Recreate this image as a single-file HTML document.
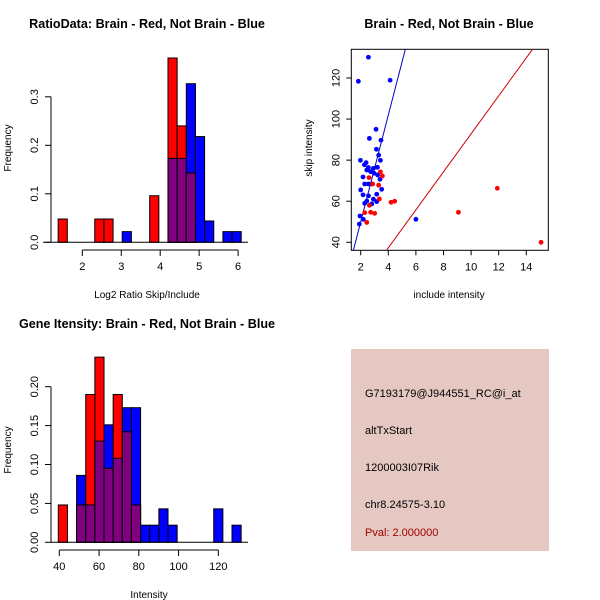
<!DOCTYPE html>
<html><head><meta charset="utf-8"><style>
body{margin:0;background:#fff;}
svg{display:block;font-family:"Liberation Sans",sans-serif;}
</style></head><body>
<svg id="c" width="600" height="600" xmlns="http://www.w3.org/2000/svg">
<rect width="600" height="600" fill="#fff"/>
<g id="p1"></g>
<g id="p2"></g>
<g id="p3"></g>
<g>
<rect x="351" y="349" width="198" height="202" fill="#E6C8C2"/>
<text x="365" y="397" font-size="11">G7193179@J944551_RC@i_at</text>
<text x="365" y="434" font-size="11">altTxStart</text>
<text x="365" y="471" font-size="11">1200003I07Rik</text>
<text x="365" y="508" font-size="11">chr8.24575-3.10</text>
<text x="365" y="536" font-size="11" fill="#a00000">Pval: 2.000000</text>
</g>
</svg>
<script>
// Top-left histogram data
const h1Start = 1.38, h1Width = 0.235;
const h1Red  = [0.048,0,0,0,0.048,0.048,0,0,0,0,0.096,0,0.38,0.24,0.143,0,0,0,0,0];
const h1Blue = [0,0,0,0,0,0,0,0.022,0,0,0,0,0.173,0.173,0.327,0.218,0.044,0,0.022,0.022];
const h1XTicks = [2,3,4,5,6];
const h1YTicks = [0,0.1,0.2,0.3];
// Bottom-left histogram data
const h3Start = 39.5, h3Width = 4.6;
const h3Red  = [0.048,0,0.048,0.19,0.238,0.095,0.19,0.142,0.048,0,0,0,0,0,0,0,0,0,0,0];
const h3Blue = [0,0,0.086,0.048,0.13,0.151,0.108,0.173,0.173,0.022,0.022,0.043,0.022,0,0,0,0,0.043,0,0.022];
const h3XTicks = [40,60,80,100,120];
const h3YTicks = [0,0.05,0.10,0.15,0.20];
const h3YLabels = ["0.00","0.05","0.10","0.15","0.20"];
// Scatter data
const blueX = [2.56,1.83,4.13,3.11,2.63,3.47,3.14,3.30,1.98,3.43,2.39,2.27,2.56,2.92,3.21,2.44,2.72,2.97,2.17,3.23,3.40,2.29,2.56,2.80,2.0,3.52,2.17,2.56,3.16,2.92,2.44,3.16,2.29,2.80,1.95,2.19,1.90,6.0];
const blueY = [130.1,118.4,118.9,95,90.6,89.7,85.3,82.4,79.9,79.9,78.8,77.7,76.4,76,76.5,75.2,74.4,73.6,71.8,72.8,70.7,68.4,68.4,68.4,65.5,65.8,63.1,62.6,63.4,61,60.1,59.8,59,58.7,52.8,51.2,48.9,51.2];
const redX = [3.43,3.57,2.60,3.30,3.35,2.63,4.20,4.46,2.29,2.72,3.01,2.44,9.08,11.9,15.07,2.87];
const redY = [74.3,72.3,71.5,67.8,61.1,58,59.5,60,54.4,54.6,54.1,49.7,54.6,66.3,40,68.4];
const scXTicks = [2,4,6,8,10,12,14];
const scYTicks = [40,60,80,100,120];
const blueLine = [-2.1, 26];   // intercept, slope
const redLine = [0.3, 9.25];

const NS="http://www.w3.org/2000/svg";
function mk(parent,tag,attrs){const e=document.createElementNS(NS,tag);for(const k in attrs)e.setAttribute(k,attrs[k]);parent.appendChild(e);return e;}
function txt(parent,x,y,s,attrs){const e=mk(parent,'text',Object.assign({x:x,y:y,'font-size':11,'text-anchor':'middle'},attrs||{}));e.textContent=s;return e;}

function histogram(g,start,width,red,blue,xf,yf,base,x0,x1){
  for(let i=0;i<red.length;i++){
    const a=xf(start+i*width), b=xf(start+(i+1)*width);
    const r=red[i], bl=blue[i], m=Math.min(r,bl);
    if(bl>0){const e=mk(g,'rect',{x:a,y:yf(bl),width:b-a,height:yf(0)-yf(bl),fill:'#0000FF',stroke:'#000','stroke-width':1});
      }
    if(r>0){const e=mk(g,'rect',{x:a,y:yf(r),width:b-a,height:yf(0)-yf(r),fill:'#FF0000',stroke:'#000','stroke-width':1});
      }
    if(m>0){const e=mk(g,'rect',{x:a,y:yf(m),width:b-a,height:yf(0)-yf(m),fill:'#800080',stroke:'#000','stroke-width':1});
      }
  }
  const bl=mk(g,'line',{x1:x0,x2:x1,y1:yf(0),y2:yf(0),stroke:'#000'});
  
}
function xAxis(g,ticks,labels,xf,y){
  const l=mk(g,'line',{x1:xf(ticks[0]),x2:xf(ticks[ticks.length-1]),y1:y,y2:y,stroke:'#000'});
  
  ticks.forEach((t,i)=>{mk(g,'line',{x1:xf(t),x2:xf(t),y1:y,y2:y+6,stroke:'#000'});
    const e=txt(g,xf(t),y+20,labels[i]);});
}
function yAxis(g,ticks,labels,yf,x){
  const l=mk(g,'line',{x1:x,x2:x,y1:yf(ticks[0]),y2:yf(ticks[ticks.length-1]),stroke:'#000'});
  
  ticks.forEach((t,i)=>{mk(g,'line',{x1:x,x2:x-6,y1:yf(t),y2:yf(t),stroke:'#000'});
    const e=txt(g,x-13,yf(t),labels[i],{transform:`rotate(-90 ${x-13} ${yf(t)})`});
    });
}

// Panel 1
(function(){
  const g=document.getElementById('p1');
  const xf=v=>82.3+(v-2)*38.95, yf=v=>242.3-v*485;
  histogram(g,h1Start,h1Width,h1Red,h1Blue,xf,yf,0,43,248);
  xAxis(g,h1XTicks,h1XTicks.map(String),xf,250);
  yAxis(g,h1YTicks,["0.0","0.1","0.2","0.3"],yf,51);
  let e=txt(g,147,28,'RatioData: Brain - Red, Not Brain - Blue',{'font-weight':'bold','font-size':12.6});
  
  e=txt(g,147,298,'Log2 Ratio Skip/Include',{'font-size':10});
  
  e=txt(g,11,148,'Frequency',{'font-size':10,transform:'rotate(-90 11 148)'});
  
})();

// Panel 3
(function(){
  const g=document.getElementById('p3');
  const xf=v=>59.3+(v-40)*1.9875, yf=v=>542.3-v*778;
  histogram(g,h3Start,h3Width,h3Red,h3Blue,xf,yf,0,51,248);
  xAxis(g,h3XTicks,h3XTicks.map(String),xf,550);
  yAxis(g,h3YTicks,h3YLabels,yf,51);
  let e=txt(g,147,328,'Gene Itensity: Brain - Red, Not Brain - Blue',{'font-weight':'bold','font-size':12.6});
  
  e=txt(g,149,598,'Intensity',{'font-size':10});
  
  e=txt(g,11,450,'Frequency',{'font-size':10,transform:'rotate(-90 11 450)'});
  
})();

// Panel 2 scatter
(function(){
  const g=document.getElementById('p2');
  const L=351.3,R=548.3,T=49.3,B=250.3;
  const xf=v=>360.7+(v-2)*13.8, yf=v=>242.3-(v-40)*2.054;
  const xi=v=>2+(v-360.7)/13.8;
  const cp=mk(g,'clipPath',{id:'scclip'});mk(cp,'rect',{x:L,y:T,width:R-L,height:B-T});
  const box=mk(g,'rect',{x:L,y:T,width:R-L,height:B-T,fill:'none',stroke:'#000'});
  
  const xa=xi(L),xb=xi(R);
  [[blueLine,'#0000CC','blue-fit-line'],[redLine,'#CC0000','red-fit-line']].forEach(([ln,c,n])=>{
    const e=mk(g,'line',{x1:xf(xa),y1:yf(ln[0]+ln[1]*xa),x2:xf(xb),y2:yf(ln[0]+ln[1]*xb),stroke:c,'clip-path':'url(#scclip)'});
    });
  blueX.forEach((x,i)=>{const e=mk(g,'circle',{cx:xf(x),cy:yf(blueY[i]),r:2.4,fill:'#0000FF'});
    });
  redX.forEach((x,i)=>{const e=mk(g,'circle',{cx:xf(x),cy:yf(redY[i]),r:2.4,fill:'#FF0000'});
    });
  scXTicks.forEach(t=>{mk(g,'line',{x1:xf(t),x2:xf(t),y1:B,y2:B+5,stroke:'#000'});
    const e=txt(g,xf(t),B+20,String(t));});
  scYTicks.forEach(t=>{mk(g,'line',{x1:L,x2:L-5,y1:yf(t),y2:yf(t),stroke:'#000'});
    const e=txt(g,L-12,yf(t),String(t),{transform:`rotate(-90 ${L-12} ${yf(t)})`});
    });
  let e=txt(g,449,28,'Brain - Red, Not Brain - Blue',{'font-weight':'bold','font-size':12.6});
  
  e=txt(g,449,298,'include intensity',{'font-size':10});
  
  e=txt(g,312,148,'skip intensity',{'font-size':10,transform:'rotate(-90 312 148)'});
  
})();
</script>
</body></html>
